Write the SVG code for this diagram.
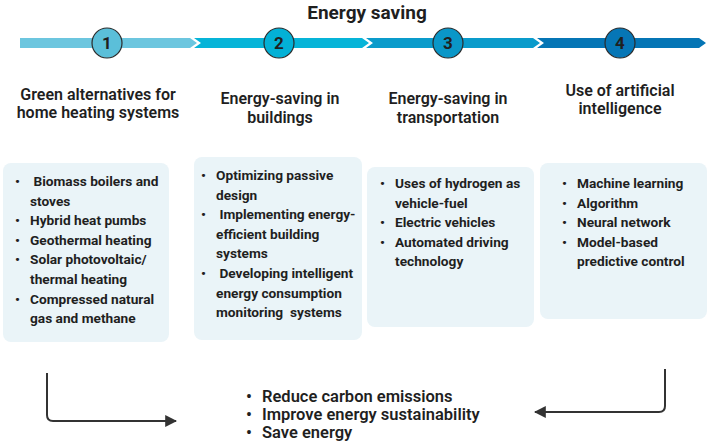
<svg xmlns="http://www.w3.org/2000/svg" width="708" height="443" viewBox="0 0 708 443">
<defs>
<style>
text{font-family:Roboto,"Liberation Sans",sans-serif;font-weight:700;fill:#1f1f1f}
.title{font-size:19px}
.num{font-size:17px;text-anchor:middle}
.head{font-size:16px;text-anchor:middle;font-weight:600}
.item{font-size:13.7px}
.out{font-size:16.5px;font-weight:600}
.box{fill:#EAF4F8}
.circ{stroke:#2b2b2b;stroke-width:1.2}
.conn{fill:none;stroke:#333;stroke-width:2}
</style>
<marker id="ah" viewBox="0 0 10 10" refX="9" refY="5" markerWidth="6" markerHeight="6" orient="auto" markerUnits="strokeWidth">
<path d="M0,0 L10,5 L0,10 z" fill="#333"/>
</marker>
</defs>
<rect width="708" height="443" fill="#fff"/>
<text class="title" x="367" y="19" text-anchor="middle">Energy saving</text>

<g id="band">
<polygon points="20,38 190,38 197,43 190,48 20,48" fill="#6CC6DF"/>
<polygon points="194,38 362,38 369,43 362,48 194,48 201,43" fill="#06B4D8"/>
<polygon points="366,38 533,38 540,43 533,48 366,48 373,43" fill="#0A9BCB"/>
<polygon points="537,38 699,38 706,43 699,48 537,48 544,43" fill="#0575B5"/>
</g>

<g id="step1">
<circle class="circ" cx="107" cy="43" r="15" fill="#5BBFD9"/>
<text class="num" x="107" y="49">1</text>
<text class="head" x="98" y="100">Green alternatives for</text>
<text class="head" x="98" y="118">home heating systems</text>
</g>
<g id="step2">
<circle class="circ" cx="279" cy="43" r="15" fill="#03B1D6"/>
<text class="num" x="279" y="49">2</text>
<text class="head" x="280" y="104">Energy-saving in</text>
<text class="head" x="280" y="123">buildings</text>
</g>
<g id="step3">
<circle class="circ" cx="448" cy="43" r="15" fill="#0A97C8"/>
<text class="num" x="448" y="49">3</text>
<text class="head" x="448" y="104">Energy-saving in</text>
<text class="head" x="448" y="123">transportation</text>
</g>
<g id="step4">
<circle class="circ" cx="620" cy="43" r="15" fill="#0676B6"/>
<text class="num" x="620" y="49">4</text>
<text class="head" x="620" y="96">Use of artificial</text>
<text class="head" x="620" y="114">intelligence</text>
</g>

<g id="box1">
<rect class="box" x="3" y="163" width="166" height="179" rx="8"/>
<text class="item" x="15" y="186">•</text><text class="item" x="30" y="186" xml:space="preserve"> Biomass boilers and</text>
<text class="item" x="30" y="205.6">stoves</text>
<text class="item" x="15" y="225.2">•</text><text class="item" x="30" y="225.2">Hybrid heat pumbs</text>
<text class="item" x="15" y="244.8">•</text><text class="item" x="30" y="244.8">Geothermal heating</text>
<text class="item" x="15" y="264.4">•</text><text class="item" x="30" y="264.4">Solar photovoltaic/</text>
<text class="item" x="30" y="284">thermal heating</text>
<text class="item" x="15" y="303.6">•</text><text class="item" x="30" y="303.6">Compressed natural</text>
<text class="item" x="30" y="323.2">gas and methane</text>
</g>
<g id="box2">
<rect class="box" x="194" y="157" width="168" height="183" rx="8"/>
<text class="item" x="201" y="180">•</text><text class="item" x="216" y="180">Optimizing passive</text>
<text class="item" x="216" y="199.6">design</text>
<text class="item" x="201" y="219.2">•</text><text class="item" x="216" y="219.2" xml:space="preserve"> Implementing energy-</text>
<text class="item" x="216" y="238.8">efficient building</text>
<text class="item" x="216" y="258.4">systems</text>
<text class="item" x="201" y="278">•</text><text class="item" x="216" y="278" xml:space="preserve"> Developing intelligent</text>
<text class="item" x="216" y="297.6">energy consumption</text>
<text class="item" x="216" y="317.2" xml:space="preserve">monitoring  systems</text>
</g>
<g id="box3">
<rect class="box" x="367" y="167" width="167" height="160" rx="8"/>
<text class="item" x="380" y="188">•</text><text class="item" x="395" y="188">Uses of hydrogen as</text>
<text class="item" x="395" y="207.6">vehicle-fuel</text>
<text class="item" x="380" y="227.2">•</text><text class="item" x="395" y="227.2">Electric vehicles</text>
<text class="item" x="380" y="246.8">•</text><text class="item" x="395" y="246.8">Automated driving</text>
<text class="item" x="395" y="266.4">technology</text>
</g>
<g id="box4">
<rect class="box" x="540" y="163" width="167" height="156" rx="8"/>
<text class="item" x="562" y="188">•</text><text class="item" x="577" y="188">Machine learning</text>
<text class="item" x="562" y="207.6">•</text><text class="item" x="577" y="207.6">Algorithm</text>
<text class="item" x="562" y="227.2">•</text><text class="item" x="577" y="227.2">Neural network</text>
<text class="item" x="562" y="246.8">•</text><text class="item" x="577" y="246.8">Model-based</text>
<text class="item" x="577" y="266.4">predictive control</text>
</g>

<g id="outcome">
<text class="out"><tspan x="246" y="402">•</tspan><tspan x="262" y="402">Reduce carbon emissions</tspan><tspan x="246" y="420">•</tspan><tspan x="262" y="420">Improve energy sustainability</tspan><tspan x="246" y="438">•</tspan><tspan x="262" y="438">Save energy</tspan></text>
</g>

<g id="connectors">
<path class="conn" d="M47,373 V415 Q47,421 53,421 H176" marker-end="url(#ah)"/>
<path class="conn" d="M665,369 V406 Q665,412 659,412 H535" marker-end="url(#ah)"/>
</g>
</svg>
